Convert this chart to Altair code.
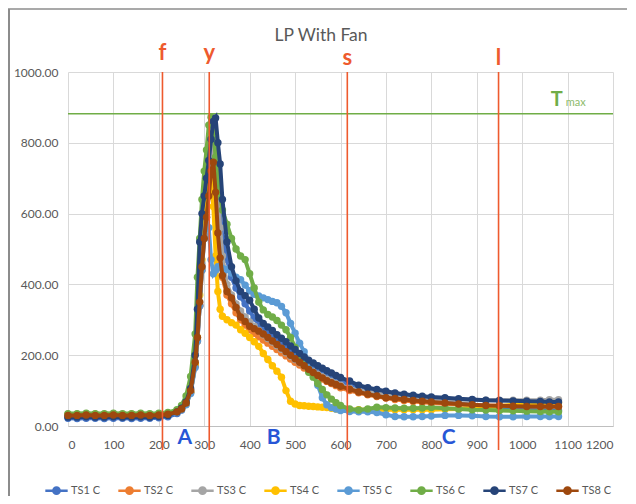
import altair as alt
import pandas as pd

# time grid (s)
t = [0, 20, 40, 60, 80, 100, 120, 140, 160, 180, 200, 220,
     240, 250, 260, 270, 280,
     285, 290, 295, 300, 305, 310, 315, 320, 325, 330, 335, 340,
     350, 360, 370, 380, 390, 400, 410, 420, 430, 440, 450, 460, 470, 480, 490,
     500, 510, 520, 530, 540, 550, 560, 570, 580, 590, 600,
     620, 640, 660, 680, 700, 720, 740, 760, 780, 800,
     830, 860, 890, 920, 950, 980, 1010, 1040, 1060, 1080]

ts1 = [22, 21, 22, 22, 21, 22, 22, 21, 22, 22, 23, 26,
       35, 45, 62, 95, 170,
       240, 340, 450, 560, 650, 720, 780, 810, 790, 700, 600, 530,
       470, 420, 390, 365, 345, 325, 305, 288, 275, 263, 252, 241, 230, 220, 210,
       200, 191, 182, 173, 165, 158, 151, 144, 138, 132, 126,
       118, 110, 103, 97, 91, 86, 82, 78, 74, 71,
       67, 63, 60, 57, 54, 51, 48, 46, 45, 44]
ts2 = [30, 30, 31, 30, 30, 31, 30, 30, 30, 31, 31, 33,
       40, 48, 62, 95, 170,
       240, 340, 440, 540, 620, 680, 700, 690, 620, 540, 470, 420,
       370, 345, 320, 300, 285, 272, 262, 252, 243, 234, 225, 216, 207, 198, 189,
       180, 172, 164, 156, 148, 140, 133, 126, 120, 114, 108,
       100, 94, 88, 83, 79, 75, 72, 69, 67, 65,
       63, 61, 59, 58, 57, 56, 56, 55, 55, 55]
ts3 = [33, 33, 34, 33, 33, 34, 33, 33, 34, 33, 34, 36,
       42, 50, 65, 100, 180,
       250, 350, 460, 560, 650, 720, 770, 790, 760, 660, 560, 480,
       400, 370, 345, 325, 308, 294, 282, 270, 258, 247, 237, 227, 217, 207, 197,
       188, 179, 170, 162, 154, 146, 139, 132, 126, 120, 115,
       107, 101, 96, 92, 88, 85, 82, 80, 78, 76,
       75, 74, 74, 73, 73, 73, 73, 73, 74, 74]
ts4 = [32, 32, 32, 33, 32, 32, 32, 33, 32, 32, 33, 34,
       40, 48, 62, 95, 175,
       250, 370, 470, 560, 640, 680, 690, 620, 480, 380, 330, 310,
       300, 292, 285, 272, 262, 250, 238, 225, 205, 188, 170, 155, 138, 100, 70,
       62, 58, 57, 56, 55, 54, 53, 52, 50, 48, 47,
       46, 46, 46, 46, 46, 46, 46, 46, 46, 46,
       47, 48, 50, 53, 56, 60, 63, 65, 66, 66]
ts5 = [28, 27, 28, 28, 27, 28, 28, 27, 28, 28, 29, 31,
       38, 46, 60, 92, 165,
       240, 340, 440, 530, 590, 560, 470, 430, 440, 450, 450, 445,
       442, 432, 420, 413, 398, 382, 372, 367, 362, 357, 352, 348, 338, 320, 290,
       262, 234, 210, 180, 150, 115, 80, 60, 52, 48, 44,
       41, 40, 40, 38, 32, 27, 26, 26, 27, 28,
       30, 30, 29, 27, 26, 26, 27, 27, 27, 27]
ts6 = [35, 35, 36, 35, 35, 36, 35, 35, 36, 35, 36, 38,
       46, 58, 85, 140, 260,
       420, 530, 640, 720, 780, 850, 872, 830, 760, 690, 650, 610,
       570, 530, 500, 480, 470, 430, 390, 350, 328, 315, 308, 298, 285, 272, 250,
       222, 195, 172, 152, 138, 120, 103, 88, 76, 66, 58,
       48, 45, 48, 53, 52, 51, 50, 50, 51, 52,
       50, 48, 46, 45, 44, 43, 42, 41, 40, 40]
ts7 = [25, 25, 26, 25, 25, 26, 25, 25, 26, 25, 27, 30,
       40, 50, 68, 106, 200,
       330, 520, 600, 650, 700, 750, 810, 860, 870, 800, 740, 640,
       520, 450, 410, 380, 368, 355, 330, 305, 290, 280, 270, 258, 248, 238, 226,
       216, 205, 195, 186, 178, 170, 163, 156, 150, 143, 137,
       127, 115, 108, 103, 98, 93, 90, 87, 84, 82,
       80, 77, 75, 73, 72, 71, 70, 69, 68, 68]
ts8 = [30, 30, 31, 30, 30, 31, 30, 30, 31, 30, 31, 33,
       40, 48, 65, 100, 180,
       250, 350, 450, 530, 590, 650, 720, 745, 660, 545, 475, 425,
       380, 362, 335, 308, 295, 282, 275, 268, 260, 250, 240, 230, 220, 210, 200,
       190, 180, 170, 160, 151, 143, 136, 128, 122, 117, 112,
       104, 96, 90, 85, 80, 78, 75, 72, 70, 68,
       65, 62, 60, 58, 57, 56, 55, 55, 55, 55]

series_names = ["TS1 C", "TS2 C", "TS3 C", "TS4 C", "TS5 C", "TS6 C", "TS7 C", "TS8 C"]
series_values = [ts1, ts2, ts3, ts4, ts5, ts6, ts7, ts8]
colors = ["#4472C4", "#ED7D31", "#A5A5A5", "#FFC000", "#5B9BD5", "#70AD47", "#264478", "#9E480E"]

x_ticks = [0, 100, 200, 300, 400, 500, 600, 700, 800, 900, 1000, 1100, 1200]
y_ticks = [0, 100, 200, 300, 400, 500, 600, 700, 800, 900, 1000]

# phase marker lines
phase_t = [208, 311, 615, 948]
phase_lbl = ["f", "y", "s", "l"]
phase_lbl_dy = [0, 0, 5, 5]
tmax_value = 882

zone_t = [257, 453, 838]
zone_lbl = ["A", "B", "C"]

title_text = "LP With Fan"

FONT = "Lato"
GRAY = "#595959"
RED = "#EE5A2E"
W, H = 545, 354

rows = []
for name, vals in zip(series_names, series_values):
    for ti, v in zip(t, vals):
        rows.append({"t": ti, "temp": v, "series": name})
df = pd.DataFrame(rows)

xs = alt.Scale(domain=[0, 1200], nice=False, zero=False)
ys = alt.Scale(domain=[0, 1000], nice=False)

X = alt.X("t:Q", scale=xs, axis=alt.Axis(values=x_ticks, title=None, format="d",
                                          grid=True, gridColor="#D9D9D9", domainColor="#BFBFBF",
                                          ticks=False, labelPadding=13, labelFont=FONT,
                                          labelFontSize=12, labelColor=GRAY))
Y = alt.Y("temp:Q", scale=ys, axis=alt.Axis(values=y_ticks, title=None, format=".2f",
                                             grid=True, gridColor="#D9D9D9", domain=False,
                                             ticks=False, labelPadding=10, labelFont=FONT,
                                             labelFontSize=12, labelColor=GRAY))

legend_symbol = "M-1,0L1,0M-0.28,0A0.28,0.28,0,1,1,0.28,0A0.28,0.28,0,1,1,-0.28,0Z"
C = alt.Color("series:N", scale=alt.Scale(domain=series_names, range=colors),
              legend=alt.Legend(title=None, orient="none", direction="horizontal",
                                legendX=-24, legendY=406, symbolType=legend_symbol,
                                symbolSize=500, symbolStrokeWidth=2.5, labelFont=FONT,
                                labelFontSize=11, labelColor=GRAY, columnPadding=13,
                                labelOffset=2))

one = pd.DataFrame({"k": [0]})

frame = alt.Chart(one).mark_rule(color="#8C8C8C", strokeWidth=2, clip=False).encode(
    x=alt.value(-59), y=alt.value(-63), y2=alt.value(H + 90))
frame_top = alt.Chart(one).mark_rule(color="#8C8C8C", strokeWidth=1.5, clip=False).encode(
    x=alt.value(-60), x2=alt.value(W + 30), y=alt.value(-63))

title_df = pd.DataFrame({"lbl": [title_text]})
title_mark = alt.Chart(title_df).mark_text(color=GRAY, font=FONT, fontSize=17.5,
                                           baseline="middle", align="center").encode(
    x=alt.value(253), y=alt.value(-36), text="lbl:N")

tmax_df = pd.DataFrame({"v": [tmax_value]})
tmax_rule = alt.Chart(tmax_df).mark_rule(color="#70AD47", strokeWidth=1.5).encode(
    y=alt.Y("v:Q", scale=ys))

layers = [frame, frame_top, title_mark, tmax_rule]
for name in series_names:
    sub = df[df.series == name]
    base = alt.Chart(sub).encode(x=X, y=Y, color=C, order="t:Q")
    layers.append(base.mark_line(strokeWidth=4))
    layers.append(base.mark_point(filled=True, size=55, opacity=1, shape="circle"))

phase_df = pd.DataFrame({"t": phase_t, "lbl": phase_lbl, "dy": phase_lbl_dy})
phase_rules = alt.Chart(phase_df).mark_rule(color=RED, strokeWidth=1.6, clip=False).encode(
    x=alt.X("t:Q", scale=xs), y=alt.value(0), y2=alt.value(H + 24))
phase_text = alt.Chart(phase_df).mark_text(color=RED, font=FONT, fontSize=22, fontWeight="bold",
                                           baseline="alphabetic", clip=False).encode(
    x=alt.X("t:Q", scale=xs), y=alt.value(-12), yOffset=alt.YOffset("dy:Q", scale=None), text="lbl:N")

zone_df = pd.DataFrame({"t": zone_t, "lbl": zone_lbl})
zone_text = alt.Chart(zone_df).mark_text(color="#2756D6", font=FONT, fontSize=21, fontWeight="bold",
                                         baseline="middle").encode(
    x=alt.X("t:Q", scale=xs), y=alt.value(H + 12), text="lbl:N")

tm_df = pd.DataFrame({"t": [1076], "v": [921], "lbl": ["T"]})
tm_text = alt.Chart(tm_df).mark_text(color="#70AD47", font=FONT, fontSize=20, fontWeight="bold",
                                     baseline="middle").encode(
    x=alt.X("t:Q", scale=xs), y=alt.Y("v:Q", scale=ys), text="lbl:N")
mx_df = pd.DataFrame({"t": [1118], "v": [912], "lbl": ["max"]})
mx_text = alt.Chart(mx_df).mark_text(color="#8DBB6A", font=FONT, fontSize=11,
                                     baseline="middle").encode(
    x=alt.X("t:Q", scale=xs), y=alt.Y("v:Q", scale=ys), text="lbl:N")

layers += [phase_rules, phase_text, zone_text, tm_text, mx_text]

chart = alt.layer(*layers).properties(
    width=W, height=H,
    autosize="none",
    padding={"left": 60, "top": 64, "right": 14, "bottom": 70},
).configure_view(stroke=None).resolve_scale(color="shared")

chart.save("out.html", embed_options={"renderer": "svg", "actions": False})
